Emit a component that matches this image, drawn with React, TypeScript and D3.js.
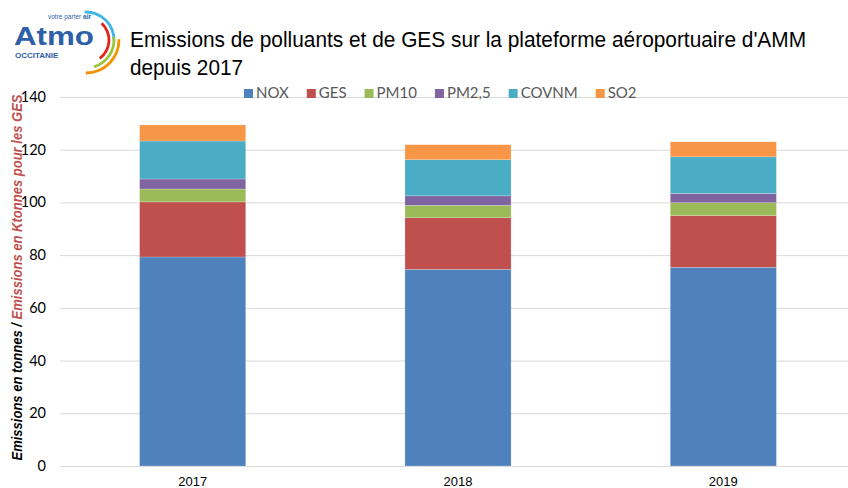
import React, { useEffect, useRef } from 'react';
import * as d3 from 'd3';

// data
const years = ['2017', '2018', '2019'];
const seriesNames = ['NOX', 'GES', 'PM10', 'PM2,5', 'COVNM', 'SO2'];
const colors = ['#4F81BD', '#C0504D', '#9BBB59', '#8064A2', '#4BACC6', '#F79646'];
const nox = [79.3, 74.6, 75.4];
const ges = [20.9, 19.6, 19.6];
const pm10 = [4.9, 4.7, 4.9];
const pm25 = [3.8, 3.6, 3.5];
const covnm = [14.4, 13.7, 13.9];
const so2 = [6.1, 5.7, 5.7];
const yTicks = [0, 20, 40, 60, 80, 100, 120, 140];

const W = 848;
const H = 488;

export default function App() {
	const svgRef = useRef<SVGSVGElement>(null);

	useEffect(() => {
		const svg = d3.select(svgRef.current);
		svg.selectAll('*').remove();

		const margin = { top: 97, left: 60, bottom: 22 };
		const plotRight = 856;
		const y0 = H - margin.bottom;

		const table = years.map((yr, i) => ({
			year: yr,
			NOX: nox[i],
			GES: ges[i],
			PM10: pm10[i],
			'PM2,5': pm25[i],
			COVNM: covnm[i],
			SO2: so2[i]
		}));

		const xScale = d3.scaleBand().domain(years).range([margin.left, plotRight]).paddingInner(0.6).paddingOuter(0.3);
		const yScale = d3.scaleLinear().domain([0, 140]).range([y0, margin.top]);
		const color = d3.scaleOrdinal<string, string>().domain(seriesNames).range(colors);

		// grid
		svg
			.append('g')
			.selectAll('line')
			.data(yTicks)
			.enter()
			.append('line')
			.attr('x1', margin.left)
			.attr('x2', W)
			.attr('y1', (d) => yScale(d) + 0.5)
			.attr('y2', (d) => yScale(d) + 0.5)
			.attr('stroke', '#d9d9d9')
			.attr('stroke-width', 1);

		// y tick labels
		svg
			.append('g')
			.selectAll('text')
			.data(yTicks)
			.enter()
			.append('text')
			.attr('x', 46)
			.attr('y', (d) => yScale(d) + 5)
			.attr('text-anchor', 'end')
			.attr('font-family', 'Lato, "Open Sans", sans-serif')
			.attr('font-size', 14.5)
			.attr('fill', '#000')
			.text((d) => d);

		// stacked bars
		const stacked = d3.stack<any>().keys(seriesNames)(table);
		svg
			.append('g')
			.selectAll('g')
			.data(stacked)
			.enter()
			.append('g')
			.attr('fill', (d) => color(d.key))
			.selectAll('rect')
			.data((d) => d)
			.enter()
			.append('rect')
			.attr('x', (d) => xScale(d.data.year)!)
			.attr('width', xScale.bandwidth())
			.attr('y', (d) => yScale(d[1]))
			.attr('height', (d) => yScale(d[0]) - yScale(d[1]))
			.attr('stroke', 'rgba(255,255,255,0.35)')
			.attr('stroke-width', 0.6);

		// x labels
		svg
			.append('g')
			.selectAll('text')
			.data(years)
			.enter()
			.append('text')
			.attr('x', (d) => xScale(d)! + xScale.bandwidth() / 2)
			.attr('y', 486)
			.attr('text-anchor', 'middle')
			.attr('font-family', '"Liberation Sans Narrow", "Liberation Sans", Arial, sans-serif')
			.attr('font-size', 13)
			.attr('fill', '#000')
			.text((d) => d);

		// y axis title
		const yTitle = svg
			.append('text')
			.attr('transform', 'translate(22,' + (95 + 460) / 2 + ') rotate(-90)')
			.attr('text-anchor', 'middle')
			.attr('font-family', '"Liberation Sans", Arial, sans-serif')
			.attr('font-size', 14)
			.attr('font-weight', 'bold')
			.attr('font-style', 'italic')
			.attr('textLength', 366)
			.attr('lengthAdjust', 'spacingAndGlyphs');
		yTitle.append('tspan').attr('fill', '#000').text('Emissions en tonnes / ');
		yTitle.append('tspan').attr('fill', '#C0504D').text('Emissions en Ktonnes pour les GES');

		// title
		const title = svg
			.append('g')
			.attr('font-family', '"Liberation Sans Narrow", "Liberation Sans", Arial, sans-serif')
			.attr('font-size', 22)
			.attr('fill', '#000');
		title
			.append('text')
			.attr('x', 130)
			.attr('y', 47)
			.attr('textLength', 676)
			.attr('lengthAdjust', 'spacingAndGlyphs')
			.text("Emissions de polluants et de GES sur la plateforme aéroportuaire d'AMM");
		title
			.append('text')
			.attr('x', 130)
			.attr('y', 75)
			.attr('textLength', 113)
			.attr('lengthAdjust', 'spacingAndGlyphs')
			.text('depuis 2017');

		// legend
		const legend = svg.append('g').attr('font-family', 'Lato, "Open Sans", sans-serif').attr('font-size', 15);
		let lx = 244;
		seriesNames.forEach((name) => {
			legend.append('rect').attr('x', lx).attr('y', 89).attr('width', 9).attr('height', 9).attr('fill', color(name));
			const t = legend
				.append('text')
				.attr('x', lx + 12)
				.attr('y', 98)
				.attr('fill', '#595959')
				.text(name);
			const w = (t.node() as SVGTextElement).getComputedTextLength();
			lx = lx + 12 + w + 18;
		});

		// logo
		const logo = svg.append('g');
		logo
			.append('text')
			.attr('x', 14)
			.attr('y', 45)
			.attr('font-family', '"Liberation Sans", Arial, sans-serif')
			.attr('font-weight', 'bold')
			.attr('font-size', 26)
			.attr('fill', '#2e5fa8')
			.attr('textLength', 80)
			.attr('lengthAdjust', 'spacingAndGlyphs')
			.text('Atmo');
		const tag = logo
			.append('text')
			.attr('x', 48)
			.attr('y', 19)
			.attr('font-family', '"Liberation Sans", Arial, sans-serif')
			.attr('font-size', 6.5)
			.attr('fill', '#2e5fa8');
		tag.append('tspan').text('votre parter ');
		tag.append('tspan').attr('font-weight', 'bold').text('air');
		logo
			.append('text')
			.attr('x', 15)
			.attr('y', 58)
			.attr('font-family', '"Liberation Sans", Arial, sans-serif')
			.attr('font-weight', 'bold')
			.attr('font-size', 8)
			.attr('fill', '#2e5fa8')
			.text('OCCITANIE');

		const arcs = [
			{ r: 28, a0: -0.05, a1: 1.6, c: '#3fb6e3' },
			{ r: 23, a0: 0.75, a1: 2.5, c: '#e2231a' },
			{ r: 28, a0: 1.45, a1: 2.85, c: '#9bc53d' },
			{ r: 33, a0: 1.55, a1: 3.15, c: '#f39200' }
		];
		const arcGen = d3.arc<any>();
		logo
			.selectAll('path')
			.data(arcs)
			.enter()
			.append('path')
			.attr('transform', 'translate(86,40)')
			.attr('fill', (d) => d.c)
			.attr('d', (d) => arcGen({ innerRadius: d.r - 1.4, outerRadius: d.r + 1.4, startAngle: d.a0, endAngle: d.a1 }) as string);
	}, []);

	return (
		<svg
			ref={svgRef}
			width={W}
			height={H}
			style={{ position: 'absolute', left: 0, top: 0, background: '#fff' }}
		/>
	);
}
